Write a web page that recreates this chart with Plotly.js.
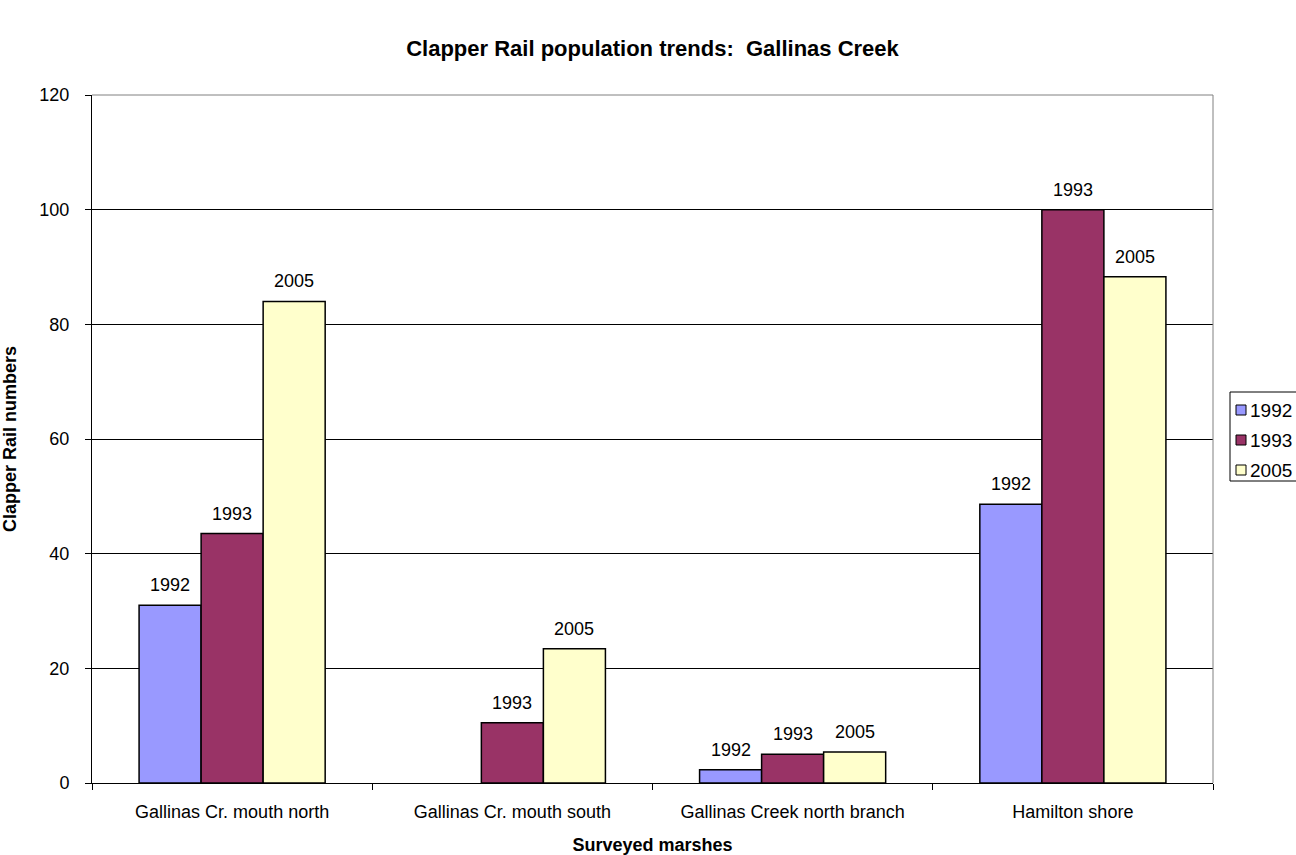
<!DOCTYPE html>
<html>
<head>
<meta charset="utf-8">
<script src="https://cdn.plot.ly/plotly-3.0.1.min.js"></script>
<style>
  html, body { margin: 0; padding: 0; background: #ffffff; }
  #chart { width: 1296px; height: 855px; }
</style>
</head>
<body>
<div id="chart"></div>
<script>
// Surveyed marshes and clapper rail counts per survey year
const marshes = [
  "Gallinas Cr. mouth north",
  "Gallinas Cr. mouth south",
  "Gallinas Creek north branch",
  "Hamilton shore"
];
const years = ["1992", "1993", "2005"];
const counts1992 = [31, null, 2.3, 48.6];
const counts1993 = [43.5, 10.5, 5, 100];
const counts2005 = [84, 23.4, 5.4, 88.3];
const yTicks = [0, 20, 40, 60, 80, 100, 120];

const seriesValues = [counts1992, counts1993, counts2005];
const fills = ["#9999FF", "#993366", "#FFFFCC"];
const FONT = "Liberation Sans, Arial, sans-serif";

const traces = years.map((yr, i) => ({
  type: "bar",
  name: yr,
  x: marshes,
  y: seriesValues[i],
  marker: { color: fills[i], line: { color: "#000000", width: 1.5 } },
  showlegend: false,
  hoverinfo: "x+y+name"
}));

// Series-name labels above each bar
const barPx = 62;
const annotations = [];
years.forEach((yr, i) => {
  seriesValues[i].forEach((v, j) => {
    if (v === null) return;
    annotations.push({
      x: marshes[j], y: v, xref: "x", yref: "y",
      text: yr, showarrow: false,
      xshift: (i - 1) * barPx, yshift: 8,
      yanchor: "bottom",
      font: { family: FONT, size: 18, color: "#000000" }
    });
  });
});

// Legend box drawn at the right edge
const plotL = 92, plotR = 1213, plotB = 783, plotT = 95;
const px = v => (v - plotL) / (plotR - plotL);
const py = v => (plotB - v) / (plotB - plotT);
const shapes = [
  // plot area frame (top and right)
  { type: "line", xref: "paper", yref: "paper", x0: 0, x1: 1, y0: 1, y1: 1,
    line: { color: "#808080", width: 1 }, layer: "above" },
  { type: "line", xref: "paper", yref: "paper", x0: 1, x1: 1, y0: 0, y1: 1,
    line: { color: "#808080", width: 1 }, layer: "above" },
  { type: "rect", xref: "paper", yref: "paper",
    x0: px(1230), x1: px(1300), y0: py(481), y1: py(392),
    line: { color: "#000000", width: 1 }, fillcolor: "#ffffff" }
];
const legendY = [410, 440, 470];
years.forEach((yr, i) => {
  shapes.push({
    type: "rect", xref: "paper", yref: "paper",
    x0: px(1236), x1: px(1246), y0: py(legendY[i] + 5), y1: py(legendY[i] - 5),
    line: { color: "#000000", width: 1 }, fillcolor: fills[i]
  });
  annotations.push({
    xref: "paper", yref: "paper", x: px(1248), y: py(legendY[i]),
    xanchor: "left", yanchor: "middle", showarrow: false, text: yr,
    font: { family: FONT, size: 19, color: "#000000" }
  });
});

const layout = {
  width: 1296, height: 855,
  margin: { l: plotL, r: 1296 - plotR, t: plotT, b: 855 - plotB, pad: 0 },
  paper_bgcolor: "#ffffff", plot_bgcolor: "#ffffff",
  font: { family: FONT, size: 18, color: "#000000" },
  title: {
    text: "<b>Clapper Rail population trends:  Gallinas Creek</b>",
    font: { family: FONT, size: 22, color: "#000000" },
    x: 0.5, xanchor: "center", xref: "paper",
    y: 1 - 48 / 855, yanchor: "middle"
  },
  barmode: "group",
  bargap: 0.336,
  bargroupgap: 0,
  xaxis: {
    type: "category",
    tickson: "boundaries",
    ticks: "outside", ticklen: 6, tickcolor: "#000000",
    showline: true, linecolor: "#000000", linewidth: 1,
    showgrid: false, zeroline: false,
    tickfont: { family: FONT, size: 18, color: "#000000" },
    ticklabelstandoff: 12,
    title: { text: "<b>Surveyed marshes</b>", font: { family: FONT, size: 18 }, standoff: 18 }
  },
  yaxis: {
    range: [0, 120],
    tickvals: yTicks,
    ticks: "outside", ticklen: 6, tickcolor: "#000000",
    showline: true, linecolor: "#000000", linewidth: 1,
    showgrid: true, gridcolor: "#000000", gridwidth: 1,
    zeroline: false,
    tickfont: { family: FONT, size: 18, color: "#000000" },
    ticklabelstandoff: 12,
    title: { text: "<b>Clapper Rail numbers</b>", font: { family: FONT, size: 18 }, standoff: 24 }
  },
  shapes: shapes,
  annotations: annotations
};

Plotly.newPlot("chart", traces, layout, { displayModeBar: false, staticPlot: true });
</script>
</body>
</html>
